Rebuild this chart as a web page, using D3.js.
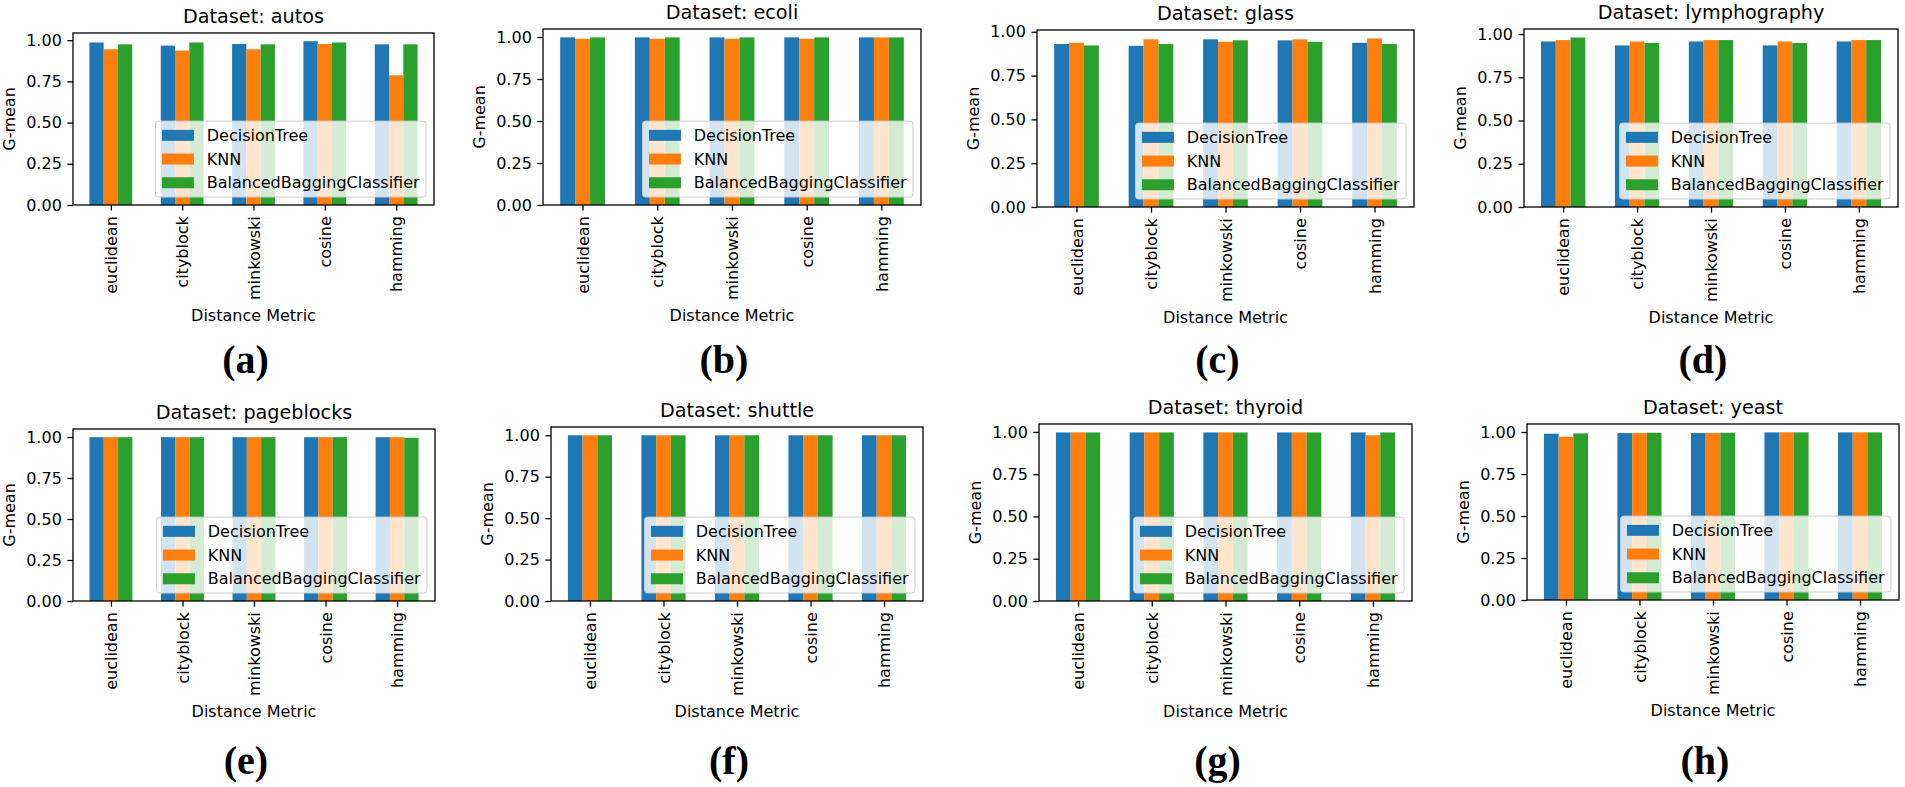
<!DOCTYPE html>
<html>
  <head>
    <script src="https://d3js.org/d3.v7.min.js"></script>
    <style>
      body { margin: 0; background: #fff; }
      text { font-family: "DejaVu Sans", sans-serif; fill: #000; }
    </style>
  </head>
  <body>
    <script type="text/javascript">

    // x axis categories, the same in every panel
    var metrics = ["euclidean", "cityblock", "minkowski", "cosine", "hamming"];
    var classifiers = ["DecisionTree", "KNN", "BalancedBaggingClassifier"];
    var datasets = ["autos", "ecoli", "glass", "lymphography", "pageblocks", "shuttle", "thyroid", "yeast"];
    var panelLetters = ["(a)", "(b)", "(c)", "(d)", "(e)", "(f)", "(g)", "(h)"];
    var yTicks = [0, 0.25, 0.5, 0.75, 1.0];

    // G-mean, one row per dataset, one column per metric
    var decisionTree = [
        [0.986, 0.967, 0.977, 0.994, 0.975],
        [0.998, 0.998, 0.998, 0.998, 0.998],
        [0.930, 0.920, 0.957, 0.951, 0.937],
        [0.957, 0.934, 0.957, 0.934, 0.957],
        [0.999, 0.999, 0.999, 0.999, 0.999],
        [1.000, 1.000, 1.000, 1.000, 1.000],
        [0.997, 0.997, 0.997, 0.997, 0.997],
        [0.990, 0.994, 0.994, 0.998, 0.998]
    ];
    var knn = [
        [0.945, 0.937, 0.945, 0.977, 0.787],
        [0.990, 0.990, 0.990, 0.990, 0.998],
        [0.937, 0.957, 0.943, 0.957, 0.962],
        [0.965, 0.957, 0.965, 0.957, 0.965],
        [0.999, 0.999, 0.999, 0.999, 0.999],
        [1.000, 1.000, 1.000, 1.000, 1.000],
        [0.997, 0.997, 0.997, 0.997, 0.980],
        [0.972, 0.994, 0.994, 0.998, 0.998]
    ];
    var bagging = [
        [0.975, 0.986, 0.975, 0.986, 0.975],
        [0.998, 0.998, 0.998, 0.998, 0.998],
        [0.922, 0.930, 0.951, 0.943, 0.930],
        [0.980, 0.948, 0.965, 0.948, 0.965],
        [0.999, 0.999, 0.999, 0.999, 0.995],
        [1.000, 1.000, 1.000, 1.000, 1.000],
        [0.997, 0.997, 0.997, 0.997, 0.997],
        [0.992, 0.996, 0.996, 0.998, 0.998]
    ];

    var colors = ["#1f77b4", "#ff7f0e", "#2ca02c"];

    // axes boxes of the 8 panels (the source figure is a collage, sizes differ a bit)
    var boxes = [
        {l: 73,   r: 434,  t: 33,  b: 205},
        {l: 543,  r: 921,  t: 29,  b: 205},
        {l: 1037, r: 1414, t: 30,  b: 207},
        {l: 1524, r: 1898, t: 29,  b: 207},
        {l: 73,   r: 435,  t: 429, b: 601},
        {l: 551,  r: 923,  t: 427, b: 601},
        {l: 1039, r: 1412, t: 424, b: 601},
        {l: 1527, r: 1899, t: 424, b: 600}
    ];
    var letterBaseline = [373, 774];

    var fs = 16;          // 10pt at this scale
    var tick = 5.6;       // tick length and pad
    var barW = 0.2;

    var svg = d3.select("body").append("svg")
        .attr("width", 1905)
        .attr("height", 787)
        .style("display", "block");

    svg.append("rect").attr("width", 1905).attr("height", 787).attr("fill", "#fff");

    for (var i = 0; i < datasets.length; i++) {
        drawPanel(i);
    }

    function drawPanel(i) {
        var box = boxes[i];
        var series = [decisionTree[i], knn[i], bagging[i]];
        var g = svg.append("g");

        // matplotlib style limits: 5% margin on x, bars stick to 0 on y
        var lo = -1.5 * barW, hi = metrics.length - 1 + 1.5 * barW;
        var pad = 0.05 * (hi - lo);
        var x = d3.scaleLinear().domain([lo - pad, hi + pad]).range([box.l, box.r]);
        var maxVal = d3.max(series, function (s) { return d3.max(s); });
        var y = d3.scaleLinear().domain([0, 1.05 * maxVal]).range([box.b, box.t]);

        // bars
        series.forEach(function (vals, k) {
            g.append("g").selectAll("rect")
                .data(vals)
                .enter()
                .append("rect")
                .attr("x", function (d, j) { return x(j + (k - 1) * barW - barW / 2); })
                .attr("width", x(barW) - x(0))
                .attr("y", function (d) { return y(d); })
                .attr("height", function (d) { return y(0) - y(d); })
                .attr("fill", colors[k]);
        });

        // y axis
        var yAxis = g.append("g")
            .attr("transform", "translate(" + box.l + ",0)")
            .call(d3.axisLeft(y).tickValues(yTicks).tickFormat(d3.format(".2f"))
                .tickSize(tick).tickPadding(tick));
        yAxis.select(".domain").remove();
        yAxis.selectAll("line").attr("stroke", "#000").attr("stroke-width", 1.3);
        yAxis.selectAll("text")
            .attr("font-size", fs)
            .attr("font-family", "DejaVu Sans");

        // x axis with rotated labels
        var xAxis = g.append("g")
            .attr("transform", "translate(0," + box.b + ")")
            .call(d3.axisBottom(x).tickValues(d3.range(metrics.length))
                .tickFormat(function (d) { return metrics[d]; })
                .tickSize(tick));
        xAxis.select(".domain").remove();
        xAxis.selectAll("line").attr("stroke", "#000").attr("stroke-width", 1.3);
        xAxis.selectAll("text")
            .attr("font-size", fs)
            .attr("font-family", "DejaVu Sans")
            .attr("y", 0)
            .attr("x", -2 * tick)
            .attr("dy", "0.35em")
            .attr("transform", "rotate(-90)")
            .style("text-anchor", "end");

        // frame
        g.append("rect")
            .attr("x", box.l).attr("y", box.t)
            .attr("width", box.r - box.l).attr("height", box.b - box.t)
            .attr("fill", "none").attr("stroke", "#000").attr("stroke-width", 1.3);

        // title and axis labels
        var cx = (box.l + box.r) / 2;
        g.append("text")
            .attr("x", cx).attr("y", box.t - 10)
            .attr("text-anchor", "middle")
            .attr("font-size", 19.2)
            .text("Dataset: " + datasets[i]);

        g.append("text")
            .attr("transform", "translate(" + (box.l - 64) + "," + ((box.t + box.b) / 2) + ") rotate(-90)")
            .attr("text-anchor", "middle")
            .attr("dominant-baseline", "central")
            .attr("font-size", fs)
            .text("G-mean");

        g.append("text")
            .attr("x", cx).attr("y", box.b + 116)
            .attr("text-anchor", "middle")
            .attr("font-size", fs)
            .text("Distance Metric");

        // sub figure letter
        g.append("text")
            .attr("x", cx - 8).attr("y", letterBaseline[i < 4 ? 0 : 1])
            .attr("text-anchor", "middle")
            .style("font-family", "'Liberation Serif', serif")
            .style("font-weight", "bold")
            .attr("font-size", 40)
            .text(panelLetters[i]);

        drawLegend(g, box);
    }

    // lower right legend, white frame with alpha 0.8 like matplotlib
    function drawLegend(g, box) {
        var lg = g.append("g");
        var frame = lg.append("rect");
        var rowH = 15.7, gap = 8, bpad = 6.4, handleW = 32, handleH = 11, textPad = 12.8;

        var widest = 0;
        var labels = lg.selectAll("text.lbl")
            .data(classifiers)
            .enter()
            .append("text")
            .attr("class", "lbl")
            .attr("font-size", fs)
            .attr("dominant-baseline", "central")
            .text(function (d) { return d; });
        labels.each(function () { widest = Math.max(widest, this.getComputedTextLength()); });

        var w = bpad + handleW + textPad + widest + bpad;
        var h = 2 * bpad + classifiers.length * rowH + (classifiers.length - 1) * gap;
        var left = box.r - 8 - w, top = box.b - 8 - h;

        frame.attr("x", left).attr("y", top)
            .attr("width", w).attr("height", h)
            .attr("rx", 3)
            .attr("fill", "#fff").attr("fill-opacity", 0.8)
            .attr("stroke", "#cccccc").attr("stroke-width", 1);

        labels
            .attr("x", left + bpad + handleW + textPad)
            .attr("y", function (d, k) { return top + bpad + rowH / 2 + k * (rowH + gap); });

        lg.selectAll("rect.handle")
            .data(classifiers)
            .enter()
            .append("rect")
            .attr("class", "handle")
            .attr("x", left + bpad)
            .attr("y", function (d, k) { return top + bpad + rowH / 2 + k * (rowH + gap) - handleH / 2; })
            .attr("width", handleW)
            .attr("height", handleH)
            .attr("fill", function (d, k) { return colors[k]; });
    }

    </script>
  </body>
</html>
